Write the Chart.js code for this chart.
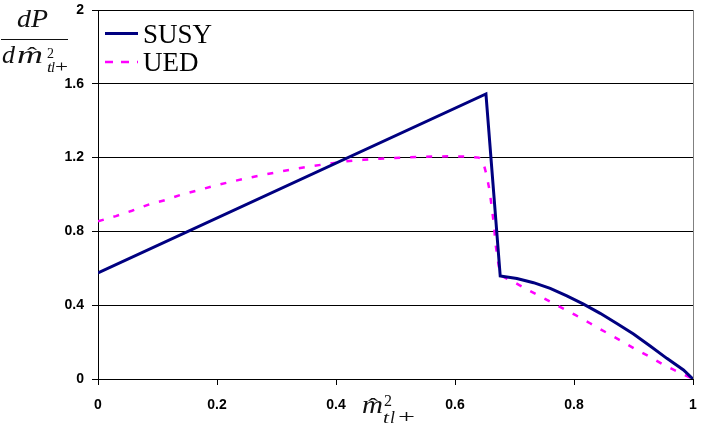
<!DOCTYPE html>
<html>
<head>
<meta charset="utf-8">
<script src="https://cdn.jsdelivr.net/npm/chart.js@4.4.1/dist/chart.umd.min.js"></script>
<style>
  html, body { margin: 0; padding: 0; background: #fff; }
  #wrap { width: 705px; height: 433px; position: relative; }
</style>
</head>
<body>
<div id="wrap"><canvas id="c" width="705" height="433"></canvas></div>
<script>
// ---- data ----
const seriesNames = ["SUSY", "UED"];

const susyX = [0, 0.652, 0.676, 0.704, 0.732, 0.760, 0.788, 0.816, 0.844, 0.872, 0.900, 0.928, 0.956, 0.984, 1.0];
const susyY = [0.575, 1.545, 0.558, 0.545, 0.522, 0.491, 0.450, 0.406, 0.356, 0.301, 0.244, 0.179, 0.112, 0.049, 0];

const uedX = [0, 0.03, 0.057, 0.085, 0.113, 0.138, 0.166, 0.194, 0.222, 0.25, 0.278, 0.306, 0.334, 0.362, 0.39, 0.418, 0.446, 0.474, 0.51, 0.55, 0.59, 0.62, 0.64, 0.6465, 0.653, 0.658, 0.662, 0.6655, 0.668, 0.672, 0.676, 0.701, 0.726, 0.752, 0.778, 0.802, 0.827, 0.852, 0.877, 0.902, 0.927, 0.951, 0.978, 1.0];
const uedY = [0.855, 0.883, 0.912, 0.945, 0.97, 0.997, 1.021, 1.046, 1.068, 1.088, 1.107, 1.124, 1.14, 1.155, 1.168, 1.18, 1.188, 1.194, 1.2, 1.205, 1.207, 1.205, 1.2, 1.187, 1.106, 1.024, 0.925, 0.835, 0.735, 0.645, 0.562, 0.522, 0.477, 0.433, 0.388, 0.347, 0.302, 0.256, 0.211, 0.164, 0.121, 0.076, 0.034, 0];

const xTicks = [0, 0.2, 0.4, 0.6, 0.8, 1];
const yTicks = [0, 0.4, 0.8, 1.2, 1.6, 2];

const toPts = (xs, ys) => xs.map((x, i) => ({ x: x, y: ys[i] }));

function fitText(ctx, text, font, left, baseline, width) {
  ctx.save();
  ctx.font = font;
  ctx.textAlign = 'left';
  ctx.textBaseline = 'alphabetic';
  const w = ctx.measureText(text).width;
  const s = width ? width / w : 1;
  ctx.translate(left, baseline);
  ctx.scale(s, 1);
  ctx.fillText(text, 0, 0);
  ctx.restore();
}

const decor = {
  id: 'decor',
  afterDraw(chart) {
    const ctx = chart.ctx;
    const a = chart.chartArea;
    ctx.save();
    // right border of plot area
    ctx.strokeStyle = '#808080';
    ctx.lineWidth = 1;
    ctx.beginPath();
    ctx.moveTo(Math.round(a.right) + 0.5, a.top);
    ctx.lineTo(Math.round(a.right) + 0.5, a.bottom);
    ctx.stroke();

    // legend
    const ds = chart.data.datasets;
    ctx.fillStyle = '#000';
    ctx.strokeStyle = ds[0].borderColor;
    ctx.lineWidth = 3;
    ctx.beginPath(); ctx.moveTo(105, 33.5); ctx.lineTo(138, 33.5); ctx.stroke();
    ctx.strokeStyle = ds[1].borderColor;
    ctx.lineWidth = 2.5;
    ctx.setLineDash([8, 8]);
    ctx.beginPath(); ctx.moveTo(105, 62); ctx.lineTo(138, 62); ctx.stroke();
    ctx.setLineDash([]);
    ctx.font = '27px "Liberation Serif"';
    ctx.textBaseline = 'alphabetic';
    ctx.fillText(ds[0].label, 143, 43);
    ctx.fillText(ds[1].label, 143, 71);

    // y-axis title: dP / d m^2_{tl+}
    ctx.fillStyle = '#111';
    ctx.strokeStyle = '#111';
    const it = (px) => 'italic ' + px + 'px "Liberation Serif"';
    const up = (px) => px + 'px "Liberation Serif"';
    fitText(ctx, 'dP', it(25), 17, 27, 31);
    ctx.lineWidth = 1.2;
    ctx.beginPath(); ctx.moveTo(1, 39.5); ctx.lineTo(68, 39.5); ctx.stroke();
    fitText(ctx, 'd', it(25), 2, 63, 13);
    fitText(ctx, 'm', it(25), 17, 63, 26);
    fitText(ctx, 'ˆ', up(22), 27, 62, 10);
    fitText(ctx, '2', up(14), 47, 58, 7);
    fitText(ctx, 't', it(15), 47, 72, 5);
    fitText(ctx, 'l', it(15), 51, 72, 4);
    fitText(ctx, '+', up(16), 55, 72, 13);

    // x-axis title: m^2_{tl+}
    fitText(ctx, 'm', it(25), 362, 413, 21);
    fitText(ctx, 'ˆ', up(22), 368, 413, 10);
    fitText(ctx, '2', up(17), 384, 406, 8);
    fitText(ctx, 't', it(17), 383, 423, 6);
    fitText(ctx, 'l', it(17), 390, 423, 5);
    fitText(ctx, '+', up(19), 398, 423, 17);
    ctx.restore();
  }
};

new Chart(document.getElementById('c'), {
  type: 'line',
  data: {
    datasets: [
      {
        label: seriesNames[0],
        data: toPts(susyX, susyY),
        borderColor: '#000080',
        borderWidth: 3,
        pointRadius: 0,
        tension: 0,
        fill: false
      },
      {
        label: seriesNames[1],
        data: toPts(uedX, uedY),
        borderColor: '#FF00FF',
        borderWidth: 2.5,
        borderDash: [6, 10],
        pointRadius: 0,
        tension: 0,
        fill: false
      }
    ]
  },
  options: {
    responsive: false,
    animation: false,
    devicePixelRatio: 1,
    layout: { padding: { left: 0, top: 10, right: 12, bottom: 0 } },
    plugins: { legend: { display: false }, tooltip: { enabled: false } },
    scales: {
      x: {
        type: 'linear',
        min: 0, max: 1,
        afterBuildTicks: (s) => { s.ticks = xTicks.map(v => ({ value: v })); },
        afterFit: (s) => { s.height = 54; s.paddingLeft = 0; s.paddingRight = 0; },
        grid: { drawOnChartArea: false, drawTicks: true, tickLength: 6, color: '#000' },
        border: { display: true, color: '#000', width: 1 },
        ticks: {
          color: '#000',
          font: { family: '"Liberation Sans", Arial', size: 14, weight: 'bold' },
          padding: 12,
          maxRotation: 0,
          callback: (v) => String(v)
        }
      },
      y: {
        min: 0, max: 2,
        afterBuildTicks: (s) => { s.ticks = yTicks.map(v => ({ value: v })); },
        afterFit: (s) => { s.width = 98; s.paddingTop = 0; s.paddingBottom = 0; },
        grid: { color: '#000', lineWidth: 1, drawTicks: true, tickLength: 6 },
        border: { display: true, color: '#000', width: 1 },
        ticks: {
          color: '#000',
          font: { family: '"Liberation Sans", Arial', size: 14, weight: 'bold' },
          padding: 8,
          callback: (v) => String(v)
        }
      }
    }
  },
  plugins: [decor]
});
</script>
</body>
</html>
